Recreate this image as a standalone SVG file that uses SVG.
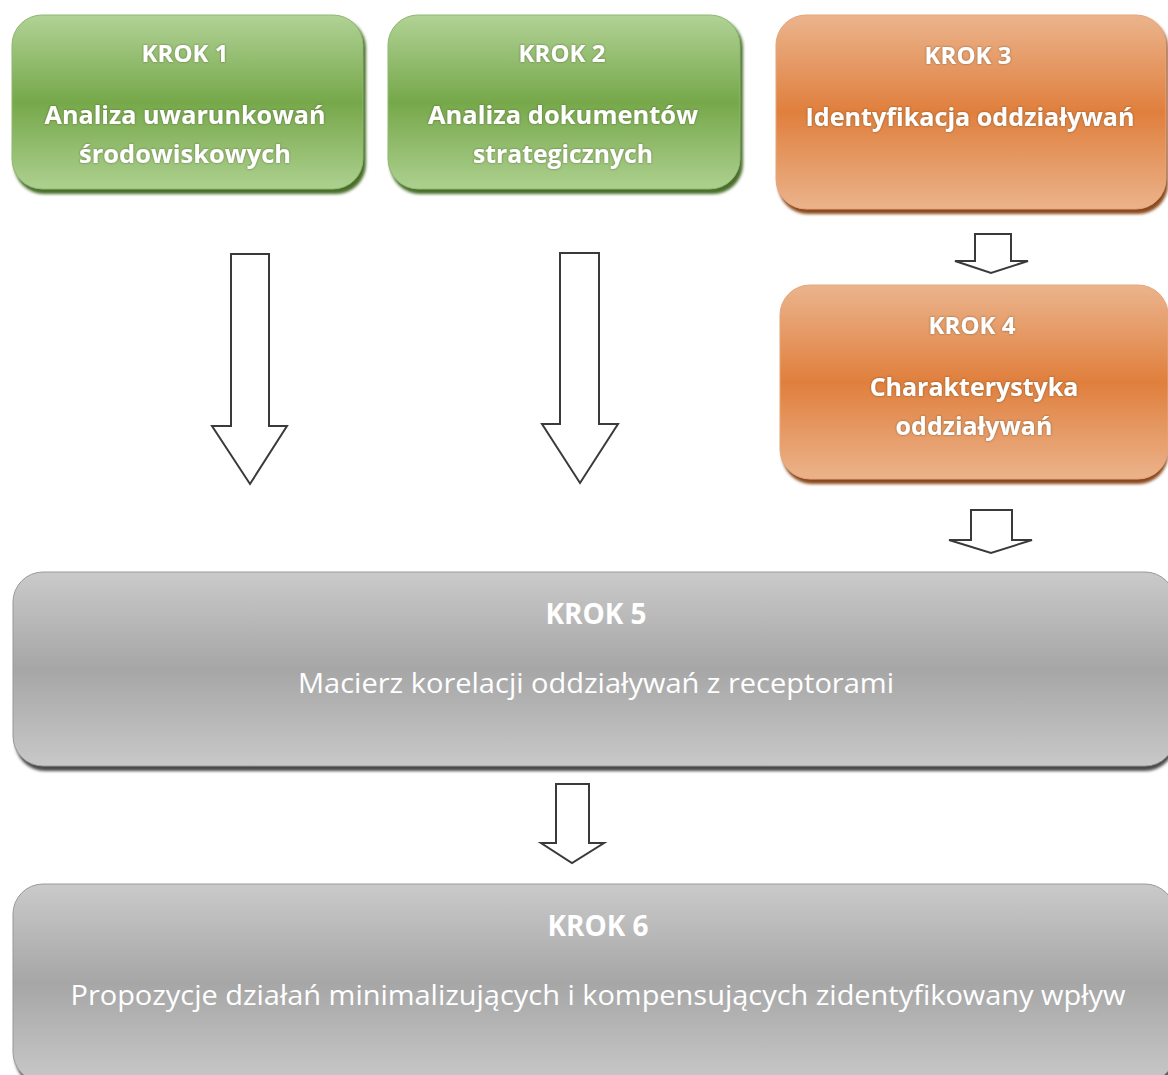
<svg xmlns="http://www.w3.org/2000/svg" width="1168" height="1075" viewBox="0 0 1168 1075">
<defs>
<linearGradient id="gGreen" x1="0" y1="0" x2="0" y2="1">
<stop offset="0" stop-color="#b1d296"/><stop offset="0.5" stop-color="#76a84a"/><stop offset="1" stop-color="#add08f"/>
</linearGradient>
<linearGradient id="gOrange" x1="0" y1="0" x2="0" y2="1">
<stop offset="0" stop-color="#ebb48d"/><stop offset="0.5" stop-color="#e07f3d"/><stop offset="1" stop-color="#ebb38b"/>
</linearGradient>
<linearGradient id="gGray" x1="0" y1="0" x2="0" y2="1">
<stop offset="0" stop-color="#cacaca"/><stop offset="0.5" stop-color="#a6a6a6"/><stop offset="1" stop-color="#c8c8c8"/>
</linearGradient>
<filter id="sh" x="-5%" y="-5%" width="110%" height="115%">
<feGaussianBlur stdDeviation="1.5"/>
</filter>
<filter id="ts" x="-5%" y="-30%" width="110%" height="160%">
<feDropShadow dx="0" dy="0" stdDeviation="1.2" flood-color="#3a3a1a" flood-opacity="0.6"/>
</filter>
</defs>
<style>
.t{font-family:"Open Sans","Liberation Sans",sans-serif;fill:#ffffff;text-anchor:middle}
.b{font-weight:bold}
.hd{font-size:24px}
.lb{font-size:25px}
.gt{font-size:27px}
.gh{font-size:28px}
.arrow{fill:#ffffff;stroke:#3a3a3a;stroke-width:2;stroke-linejoin:miter}
</style>

<g id="node1">
<rect x="14" y="18" width="352" height="176" rx="30" fill="#4a6e2a" filter="url(#sh)"/>
<rect x="12" y="15" width="351" height="174" rx="30" fill="url(#gGreen)" stroke="#8fb870" stroke-width="1"/>
<g filter="url(#ts)">
<text class="t b hd" x="185" y="62">KROK 1</text>
<text class="t b lb" x="185" y="124" textLength="281" lengthAdjust="spacingAndGlyphs">Analiza uwarunkowań</text>
<text class="t b lb" x="185" y="163" textLength="212" lengthAdjust="spacingAndGlyphs">środowiskowych</text>
</g>
</g>

<g id="node2">
<rect x="390" y="18" width="353" height="176" rx="30" fill="#4a6e2a" filter="url(#sh)"/>
<rect x="388" y="15" width="352" height="174" rx="30" fill="url(#gGreen)" stroke="#8fb870" stroke-width="1"/>
<g filter="url(#ts)">
<text class="t b hd" x="562" y="62">KROK 2</text>
<text class="t b lb" x="563" y="124" textLength="270" lengthAdjust="spacingAndGlyphs">Analiza dokumentów</text>
<text class="t b lb" x="563" y="163" textLength="180" lengthAdjust="spacingAndGlyphs">strategicznych</text>
</g>
</g>

<g id="node3">
<rect x="778" y="18" width="390" height="196" rx="30" fill="#8a4a1c" filter="url(#sh)"/>
<rect x="776" y="15" width="390" height="194" rx="30" fill="url(#gOrange)" stroke="#e6a67a" stroke-width="1"/>
<g filter="url(#ts)">
<text class="t b hd" x="968" y="64">KROK 3</text>
<text class="t b lb" x="970" y="126" textLength="329" lengthAdjust="spacingAndGlyphs">Identyfikacja oddziaływań</text>
</g>
</g>

<g id="node4">
<rect x="782" y="288" width="386" height="196" rx="30" fill="#8a4a1c" filter="url(#sh)"/>
<rect x="780" y="285" width="388" height="194" rx="30" fill="url(#gOrange)" stroke="#e6a67a" stroke-width="1"/>
<g filter="url(#ts)">
<text class="t b hd" x="972" y="334">KROK 4</text>
<text class="t b lb" x="974" y="396">Charakterystyka</text>
<text class="t b lb" x="974" y="435">oddziaływań</text>
</g>
</g>

<g id="node5">
<rect x="15" y="575" width="1160" height="196" rx="30" fill="#4a4a4a" filter="url(#sh)"/>
<rect x="13" y="572" width="1162" height="194" rx="30" fill="url(#gGray)" stroke="#9a9a9a" stroke-width="1"/>
<text class="t b gh" x="596" y="624">KROK 5</text>
<text class="t gt" x="596" y="693" textLength="596" lengthAdjust="spacingAndGlyphs">Macierz korelacji oddziaływań z receptorami</text>
</g>

<g id="node6">
<rect x="15" y="887" width="1160" height="200" rx="30" fill="#4a4a4a" filter="url(#sh)"/>
<rect x="13" y="884" width="1162" height="198" rx="30" fill="url(#gGray)" stroke="#9a9a9a" stroke-width="1"/>
<text class="t b gh" x="598" y="936">KROK 6</text>
<text class="t gt" x="598" y="1005" textLength="1055" lengthAdjust="spacingAndGlyphs">Propozycje działań minimalizujących i kompensujących zidentyfikowany wpływ</text>
</g>

<g id="connectors">
<path class="arrow" d="M231,254 H269 V426 H287 L250,484 L212,426 H231 Z"/>
<path class="arrow" d="M560,253 H599 V424 H618 L580,483 L542,424 H560 Z"/>
<path class="arrow" d="M975,234 H1011 V261 H1028 L991,273 L955,261 H975 Z"/>
<path class="arrow" d="M971,510 H1012 V540 H1032 L991,553 L949,540 H971 Z"/>
<path class="arrow" d="M556,784 H589 V843 H604 L572,863 L541,843 H556 Z"/>
</g>
</svg>
